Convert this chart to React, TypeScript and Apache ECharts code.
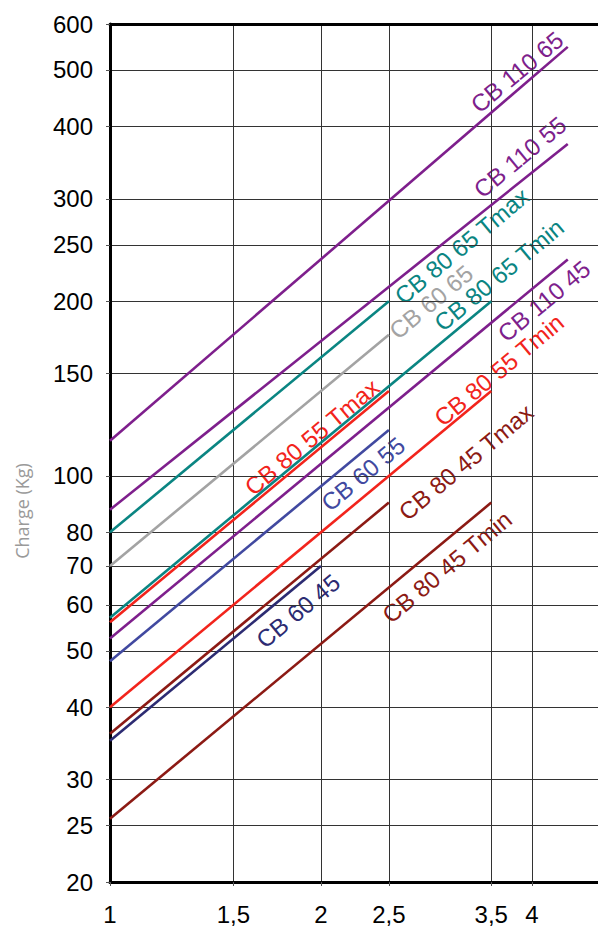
import React, { useEffect, useRef } from "react";
import * as echarts from "echarts";

// Tick values
const xTicks = [1, 1.5, 2, 2.5, 3.5, 4];
const yTicks = [20, 25, 30, 40, 50, 60, 70, 80, 100, 150, 200, 250, 300, 400, 500, 600];
const xMin = 1;
const xMax = 4.97;
const yMin = 20;
const yMax = 600;

// Series: [x, charge] end points
const cb11065 = [[1, 115], [4.5, 548]];
const cb11055 = [[1, 87.5], [4.5, 373]];
const cb8065Tmax = [[1, 80], [2.5, 200]];
const cb6065 = [[1, 70], [2.5, 175]];
const cb8065Tmin = [[1, 57], [3.5, 200]];
const cb8055Tmax = [[1, 56], [2.5, 140]];
const cb11045 = [[1, 52.5], [4.5, 236]];
const cb6055 = [[1, 48], [2.5, 120]];
const cb8055Tmin = [[1, 40], [3.5, 140]];
const cb8045Tmax = [[1, 36], [2.5, 90]];
const cb6045 = [[1, 35], [2, 70]];
const cb8045Tmin = [[1, 25.7], [3.5, 90]];

const seriesNames = [
  "CB 110 65", "CB 110 55", "CB 80 65 Tmax", "CB 60 65", "CB 80 65 Tmin", "CB 80 55 Tmax",
  "CB 110 45", "CB 60 55", "CB 80 55 Tmin", "CB 80 45 Tmax", "CB 60 45", "CB 80 45 Tmin",
];
const seriesData = [
  cb11065, cb11055, cb8065Tmax, cb6065, cb8065Tmin, cb8055Tmax,
  cb11045, cb6055, cb8055Tmin, cb8045Tmax, cb6045, cb8045Tmin,
];
const yAxisTitle = "Charge (Kg)";

const PURPLE = "#7e1f8c";
const TEAL = "#0a8582";
const GRAY = "#a3a3a3";
const RED = "#f2241c";
const BLUE = "#4149a0";
const NAVY = "#2c2b72";
const DARKRED = "#8c1a14";
const seriesColors = [PURPLE, PURPLE, TEAL, GRAY, TEAL, RED, PURPLE, BLUE, RED, DARKRED, NAVY, DARKRED];

// Label placements (pixel centres)
const labelPos = [
  [517, 72], [520, 157], [462, 246], [431, 302], [499, 275], [312, 437],
  [544, 301], [363, 474], [499, 370], [466, 462], [298, 611], [447, 567],
];

const lg = (v: number) => Math.log10(v);
const fmt = (v: number) => {
  const r = Math.round(Math.pow(10, v) * 10) / 10;
  return String(r).replace(".", ",");
};

export default function App() {
  const ref = useRef<HTMLDivElement>(null);
  useEffect(() => {
    if (!ref.current) return;
    const chart = echarts.init(ref.current, undefined, { renderer: "svg" });
    const font = "'Liberation Sans', Arial, sans-serif";
    const angle = Math.atan(581.3 / 700);
    const gridLine = { show: true, lineStyle: { color: "#333", width: 1 } };
    chart.setOption({
      animation: false,
      grid: { left: 110, right: 0, top: 24, bottom: 44, containLabel: false },
      xAxis: [
        {
          type: "value",
          min: lg(xMin),
          max: lg(xMax),
          axisLine: { show: true, onZero: false, lineStyle: { color: "#000", width: 3 } },
          axisTick: { show: true, length: 4, customValues: xTicks.map(lg), lineStyle: { color: "#555" } },
          axisLabel: {
            customValues: xTicks.map(lg),
            formatter: fmt,
            fontFamily: font,
            fontSize: 24,
            color: "#000",
            margin: 20,
          },
          splitLine: gridLine,
        },
        {
          type: "value",
          position: "top",
          min: lg(xMin),
          max: lg(xMax),
          axisLine: { show: true, onZero: false, lineStyle: { color: "#000", width: 3 } },
          axisTick: { show: false },
          axisLabel: { show: false },
          splitLine: { show: false },
        },
      ],
      yAxis: {
        type: "value",
        min: lg(yMin),
        max: lg(yMax),
        axisLine: { show: true, onZero: false, lineStyle: { color: "#000", width: 3 } },
        axisTick: { show: true, length: 4, customValues: yTicks.map(lg), lineStyle: { color: "#555" } },
        axisLabel: {
          customValues: yTicks.map(lg),
          formatter: (v: number) => String(Math.round(Math.pow(10, v))),
          fontFamily: font,
          fontSize: 24,
          color: "#000",
          margin: 17,
        },
        splitLine: gridLine,
      },
      series: seriesData.map((d, i) => ({
        type: "line",
        name: seriesNames[i],
        data: d.map((p) => [lg(p[0]), lg(p[1])]),
        symbol: "none",
        lineStyle: { color: seriesColors[i], width: 2.6 },
        silent: true,
      })),
      graphic: [
        ...seriesNames.map((n, i) => ({
          type: "text",
          x: labelPos[i][0],
          y: labelPos[i][1],
          rotation: angle,
          silent: true,
          style: {
            text: n,
            fill: seriesColors[i],
            font: `24px ${font}`,
            align: "center",
            verticalAlign: "middle",
          },
        })),
        {
          type: "text",
          x: 22,
          y: 511,
          rotation: Math.PI / 2,
          silent: true,
          style: {
            text: yAxisTitle,
            fill: "#9a9a9a",
            font: "18px 'Open Sans', sans-serif",
            align: "center",
            verticalAlign: "middle",
          },
        },
      ],
    });
    return () => chart.dispose();
  }, []);
  return (
    <div
      ref={ref}
      style={{ position: "absolute", left: 0, top: 0, width: 598, height: 926 }}
    />
  );
}
